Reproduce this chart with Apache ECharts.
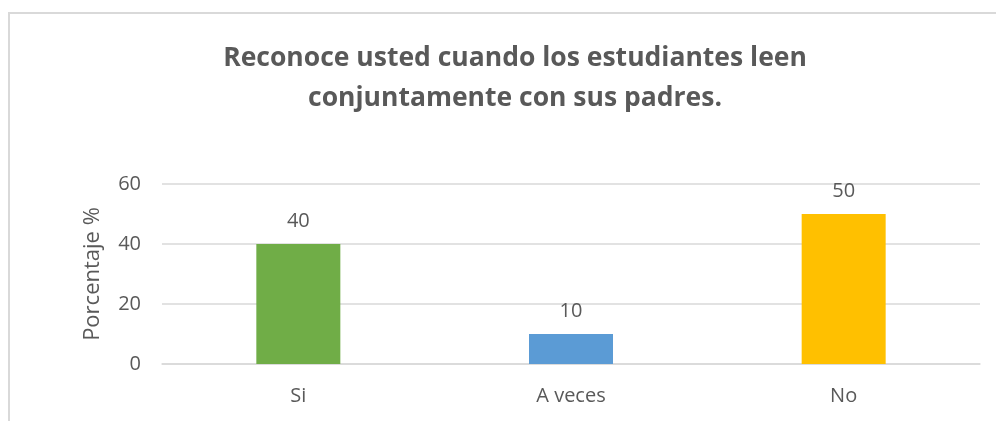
<!DOCTYPE html>
<html>
<head>
<meta charset="utf-8">
<script src="https://cdn.jsdelivr.net/npm/echarts@6/dist/echarts.min.js"></script>
<style>
html,body{margin:0;padding:0;background:#fff;}
#main{width:996px;height:421px;}
</style>
</head>
<body>
<div id="main"></div>
<script>
const titleText = "Reconoce usted cuando los estudiantes leen\nconjuntamente con sus padres.";
const categories = ["Si", "A veces", "No"];
const values = [40, 10, 50];
const barColors = ["#70AD47", "#5B9BD5", "#FFC000"];
const yTicks = [0, 20, 40, 60];
const yAxisName = "Porcentaje %";

const FONT = "'Open Sans', sans-serif";
const TXT = "#595959";

const chart = echarts.init(document.getElementById('main'), null, {renderer: 'canvas'});
chart.setOption({
  animation: false,
  backgroundColor: '#ffffff',
  title: {
    text: titleText,
    left: 510,
    textAlign: 'center',
    top: 33,
    textStyle: {
      fontFamily: FONT,
      fontWeight: 'bold',
      fontSize: 26.5,
      lineHeight: 40,
      color: TXT
    }
  },
  graphic: [{
    type: 'rect',
    shape: {x: 9, y: 13, width: 1100, height: 600},
    style: {fill: 'none', stroke: '#d9d9d9', lineWidth: 2},
    silent: true
  }],
  grid: {left: 162, right: 16, top: 184, bottom: 57},
  xAxis: {
    type: 'category',
    data: categories,
    axisTick: {show: false},
    axisLine: {lineStyle: {color: '#d9d9d9', width: 1.5}},
    axisLabel: {margin: 22, fontFamily: FONT, fontSize: 20, color: TXT}
  },
  yAxis: {
    type: 'value',
    min: yTicks[0],
    max: yTicks[yTicks.length - 1],
    interval: yTicks[1] - yTicks[0],
    name: yAxisName,
    nameLocation: 'middle',
    nameRotate: 90,
    nameGap: 58,
    nameTextStyle: {fontFamily: FONT, fontSize: 22, color: TXT},
    axisLine: {show: false},
    axisTick: {show: false},
    axisLabel: {margin: 21, fontFamily: FONT, fontSize: 20, color: TXT},
    splitLine: {lineStyle: {color: '#d9d9d9', width: 1.5}}
  },
  series: [{
    type: 'bar',
    barWidth: 84,
    data: values.map((v, i) => ({value: v, itemStyle: {color: barColors[i]}})),
    label: {
      show: true,
      position: 'top',
      distance: 13,
      fontFamily: FONT,
      fontSize: 20,
      color: TXT
    }
  }]
});
</script>
</body>
</html>
